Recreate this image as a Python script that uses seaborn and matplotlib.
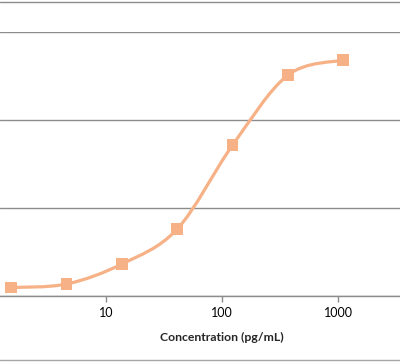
import numpy as np
import matplotlib
matplotlib.use("Agg")
import matplotlib.pyplot as plt
from matplotlib.path import Path
from matplotlib.patches import PathPatch
from matplotlib.lines import Line2D
import pandas as pd
import seaborn as sns

# du lieu doc tu hinh (nong do pha loang 3 lan)
concentration = [1.524, 4.572, 13.72, 41.15, 123.5, 370.4, 1111.1]
signal = [0.096, 0.136, 0.363, 0.76, 1.712, 2.506, 2.676]
tick_values = [10, 100, 1000]
tick_labels = ["10", "100", "1000"]
x_label = "Concentration (pg/mL)"

df = pd.DataFrame({"conc": concentration, "signal": signal})

sns.set_style("white")
plt.rcParams["font.family"] = ["Lato", "DejaVu Sans"]

line_color = "#F7B186"
grid_color = "#8C8C8C"

fig = plt.figure(figsize=(4, 3.62), dpi=100)
ax_h = (296 - 31.5) / 362
ax = fig.add_axes([0, 66 / 362, 1, ax_h])

ax.set_xscale("log")
ax.set_xlim(10 ** (1 - 106 / 116), 10 ** (1 + 294 / 116))
ax.set_ylim(0, 3)

# duong cong muot kieu Excel (bezier qua cac diem, tinh trong khong gian log)
lx = np.log10(df["conc"].values)
ly = df["signal"].values
verts = [(10 ** lx[0], ly[0])]
codes = [Path.MOVETO]
n = len(lx)
for i in range(n - 1):
    p0 = max(i - 1, 0)
    p3 = min(i + 2, n - 1)
    c1x = lx[i] + (lx[i + 1] - lx[p0]) / 6
    c1y = ly[i] + (ly[i + 1] - ly[p0]) / 6
    c2x = lx[i + 1] - (lx[p3] - lx[i]) / 6
    c2y = ly[i + 1] - (ly[p3] - ly[i]) / 6
    verts += [(10 ** c1x, c1y), (10 ** c2x, c2y), (10 ** lx[i + 1], ly[i + 1])]
    codes += [Path.CURVE4, Path.CURVE4, Path.CURVE4]
curve = PathPatch(Path(verts, codes), facecolor="none", edgecolor=line_color,
                  lw=2.3, capstyle="round", zorder=3)
ax.add_patch(curve)

sns.scatterplot(data=df, x="conc", y="signal", marker="s", s=70,
                color=line_color, edgecolor="none", ax=ax, zorder=4)

ax.set_yticks([0, 1, 2, 3])
ax.yaxis.grid(True, color=grid_color, lw=1)
ax.set_xticks(tick_values)
ax.set_xticklabels(tick_labels)
ax.xaxis.set_minor_locator(matplotlib.ticker.NullLocator())
ax.tick_params(axis="x", direction="out", length=4, width=1, color=grid_color,
               labelsize=9, pad=4, labelcolor="#000000", bottom=True)
ax.tick_params(axis="y", left=False, labelleft=False)
ax.set_ylabel("")
ax.set_xlabel(x_label, fontsize=8.8, fontweight="bold")
ax.xaxis.label.set_va("center")
ax.xaxis.set_label_coords(222 / 400, -41 / 362 / ax_h)

for side in ["top", "left", "right"]:
    ax.spines[side].set_visible(False)
ax.spines["bottom"].set_color(grid_color)
ax.spines["bottom"].set_linewidth(1)

# vien khung bieu do (bi cat)
fig.add_artist(Line2D([0, 1], [1 - 1.5 / 362] * 2, transform=fig.transFigure,
                      color=grid_color, lw=1))
fig.add_artist(Line2D([0, 1], [2.5 / 362] * 2, transform=fig.transFigure,
                      color="#A6A6A6", lw=1))

fig.savefig("out.png", dpi=100)
